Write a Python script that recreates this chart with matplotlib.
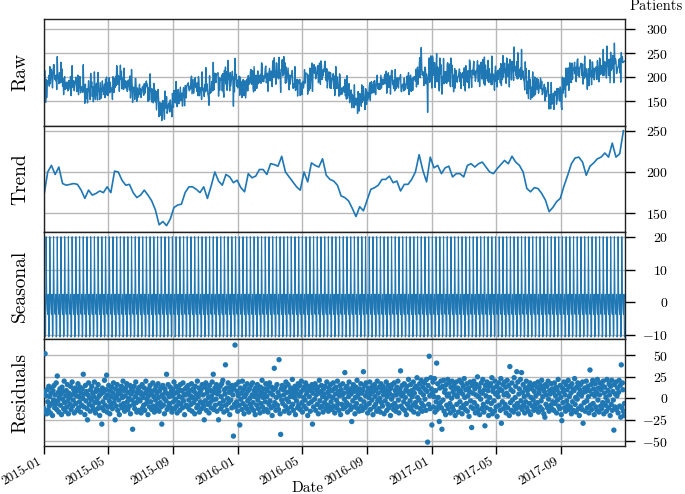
import numpy as np
import pandas as pd
import matplotlib
matplotlib.use("Agg")
import matplotlib.pyplot as plt
import matplotlib.dates as mdates

plt.rcParams['font.family'] = ['cmr10', 'DejaVu Serif']
plt.rcParams['mathtext.fontset'] = 'cm'
plt.rcParams['axes.formatter.use_mathtext'] = True

# ---------------- data ----------------
start_date = "2015-01-01"
n_days = 1095

# weekly trend level (one value per week starting 2015-01-01)
trend_weekly = [
    172, 200, 208, 197, 206, 186, 184, 185, 186, 185, 178, 168, 178, 172, 174, 177, 175, 182, 175, 201,
    200, 190, 184, 185, 175, 169, 172, 178, 172, 165, 154, 136, 140, 135, 143, 157, 160, 161, 175, 182,
    182, 179, 175, 182, 168, 183, 200, 189, 184, 197, 194, 187, 190, 181, 176, 198, 193, 195, 203, 203,
    197, 210, 209, 207, 219, 200, 194, 188, 182, 178, 200, 188, 211, 208, 206, 216, 196, 191,
    189, 184, 171, 169, 165, 156, 146, 158, 153, 166, 179, 181, 184, 191, 191, 195, 187, 189, 177, 185,
    185, 191, 200, 221, 202, 188, 218, 205, 208, 198, 205, 207, 194, 198, 198, 194, 208, 210, 206,
    210, 212, 206, 200, 198, 204, 209, 214, 210, 219, 212, 208, 200, 180, 176, 181, 180, 174, 166, 152,
    157, 164, 168, 183, 196, 210, 217, 218, 212, 196, 207, 211, 216, 218, 223, 218, 235, 218, 222, 250,
]

# weekly seasonal component, Monday..Sunday
season_by_weekday = [20.0, 3.2, -1.8, -3.6, 2.5, -10.5, -9.8]

# daily residuals
residuals = [
    -12, 8, 52, -15, 3, -18, 10, -4, -14, 14, -9, 2, -17, 6, 12, -6, -20, 9, -2, 15, -11, 4, -7, 18, -13, 26, -3, 7, -16, 1,
    11, -8, 5, -19, 13, -1, 8, -12, 20, -5, -15, 3, 9, -10, 16, -3, -18, 6, 1, -7, 14, -13, 4, 19, -9, -2, 10, -17, 7, 12,
    -6, 3, -14, 9, 17, -11, 2, -4, 13, -16, 6, -8, 11, 0, 28, -10, 5, -19, 15, -3, 8, -12, -25, 4, 18, -7, 1, -15, 10, -2,
    14, -9, 6, -13, 2, 19, -5, -17, 8, 11, -1, -12, 16, -6, 3, -20, 9, 5, -11, -30, 12, -4, 7, -14, 21, -8, 1, 10, 27, -16,
    4, -10, 15, -3, -18, 9, 2, -7, 13, -12, 6, 18, -5, 0, -25, 11, -9, 3, 16, -14, 7, -2, -19, 10, 5, -8, 14, -11, 1, 20,
    -6, 9, -15, 3, 12, -10, 17, -4, -13, 7, 0, -9, 15, -18, 5, 11, -2, -36, 8, -7, 14, -12, 2, 19, -5, -16, 6, 10, -1, -14,
    13, -3, 7, -17, 4, 16, -11, 1, -8, 12, -14, 6, 20, -6, -1, 9, -19, 3, 11, -10, 15, -4, 5, -13, 8, 18, -9, 2, -16, 10,
    -2, 14, -12, 6, -7, 17, 1, -15, 9, -5, 12, -10, -30, 4, 15, -8, 0, -18, 11, 7, -3, 28, -13, 5, 16, -9, 2, -6, 13, -11,
    8, -16, 3, 10, -4, 19, -12, 6, -1, 14, -9, -17, 7, 12, -5, 2, -14, 16, -7, 9, 1, -11, 18, -3, 5, -19, 11, 4, -8, 13,
    -10, 6, 15, -2, -13, 9, 3, -7, 17, -15, 1, 11, -5, 8, -18, 14, -1, 5, -11, 20, -8, 2, 12, -16, 7, -4, 10, -12, 16, -6,
    4, -9, -25, 13, -3, 18, -14, 6, 10, -7, 1, -17, 15, -5, 9, -11, 3, 19, -2, 28, -13, 7, 12, -8, -1, 16, -15, 5, 11, -25,
    8, -6, 14, -12, 2, 17, -9, 21, -3, -16, 10, 5, 39, -8, 12, -14, 0, 18, -5, 7, -19, 13, -2, 9, -11, 15, 4, -44, 11, -7,
    62, -10, 16, -4, 8, -15, 3, 19, -8, -31, 12, -1, 6, -13, 20, -6, 10, -18, 2, 14, -9, 5, -12, 17, -3, 9, -16, 11, 0, -7,
    15, -11, 4, 18, -5, -14, 9, 2, -19, 12, 6, -8, 16, -2, -12, 10, 3, -17, 13, -6, 7, 21, -10, 1, -15, 11, 5, -4, 17, -13,
    2, 9, -16, 14, -7, 18, -3, 6, -11, 13, -20, 4, 10, -9, 35, -5, 12, -14, 1, 16, -8, 7, -13, 45, 3, -18, -42, 11, -2, 15,
    -6, 10, 4, -15, 13, -9, 19, -1, 7, -12, 16, -4, -17, 8, 2, 12, -10, 5, 22, -7, -14, 9, 1, 14, -19, 6, -3, 11, -11, 17,
    -8, 3, 15, -13, 7, 20, -5, -16, 10, 1, -9, 13, -2, 18, -12, 5, 8, -20, 14, -6, 2, 11, -15, 9, -4, 16, -30, 6, -10, 12,
    -1, 17, -14, 4, 10, -7, 13, -18, 6, 21, -3, -11, 8, 15, -9, 2, -16, 11, 5, -5, 14, -12, 0, 19, -8, 7, -15, 12, 3, -10,
    16, -4, 9, -13, 1, 18, -9, 11, -17, 5, 13, -2, -11, 20, -6, 8, -14, 3, 15, -19, 10, -7, 4, 17, -12, 6, -1, 30, -10, 12,
    -5, 14, -16, 7, 2, 19, -8, 10, -13, 5, -27, 12, -3, 16, -10, 8, -18, 1, 13, -6, 21, -12, 4, 9, -15, 11, -1, 17, -9, 6,
    -14, 10, 31, -4, 15, -11, 3, 18, -8, 7, -17, 12, 1, -6, 19, -13, 5, 9, -2, 14, -19, 8, -10, 16, 2, -7, 11, -15, 20, -3,
    6, -12, 13, 0, -16, 17, -5, 9, -9, 14, 4, -18, 11, -3, 7, 19, -14, 2, -7, 15, -11, 10, 5, -20, 12, -1, 16, -8, 3, -13,
    18, -6, 9, -15, 4, 13, -10, 20, -2, -17, 7, 11, 32, -9, 3, 15, -12, 6, -4, 17, -14, 1, 10, -19, 14, -7, 8, 22, -11, 5,
    -3, 16, -13, 9, 2, -8, 19, -16, 6, 12, -5, 14, -10, 24, 1, -18, 11, -2, 17, -12, 7, 21, -6, -15, 13, 4, -9, 18, -1, 10,
    -14, 22, 8, -51, 15, -7, 49, 3, -12, 24, 11, -31, 6, 19, -10, 2, 23, -16, 9, -4, 41, -13, 17, 1, -9, -27, 12, -5, 20, -11,
    -36, 14, -2, 21, -15, 7, 10, -19, 16, -8, 3, 22, -12, 5, 18, -6, -17, 13, 0, 20, -10, 8, -14, 15, 4, -20, 11, 19, -7, 2,
    12, -16, 7, 21, -4, 9, -11, 18, -18, 5, 14, -8, 23, 1, -13, 10, -6, 17, -15, 3, 12, -21, 8, 19, -3, -10, -34, 15, 6, -12,
    20, -5, 11, -17, 4, 16, -9, 25, -14, 2, 13, -19, 8, -1, 18, -12, 6, 22, -7, -16, 10, -32, 15, 3, -11, 19, -4, 9, -20, 14,
    1, -13, 17, -6, 24, -18, 8, 12, -3, -15, 20, 5, -10, 14, -21, 7, 2, 18, -8, 11, -14, 23, -29, 9, -4, 16, -12, 4, 19, -7,
    13, -17, 6, 21, -11, 3, 15, -20, 37, -5, 10, -14, 18, -2, 8, -16, 24, -9, 1, 14, -12, 31, -6, 19, -18, 5, 11, -10, 22, -3,
    30, -13, 7, 16, -8, 2, -17, 12, -4, 20, -11, 9, 4, -15, 14, -6, 18, -19, 1, 11, -9, 15, -2, -14, 8, 17, -7, 3, -12, 13,
    -5, 19, -16, 6, 10, -10, 15, -3, 21, -13, 2, 12, -18, 8, -22, 16, -7, 4, 14, -11, 20, -1, -15, 9, 5, -8, 17, -12, 11, -4,
    7, -14, 18, -6, 3, 13, -17, 10, -2, 22, -9, 6, -12, 15, 1, -19, -26, 12, -5, 8, 19, -11, 4, -15, 16, -3, 10, -8, 21, -13,
    2, 14, -10, 6, -18, 17, -4, 11, -14, 9, 23, -7, 1, -16, 13, -1, 18, -12, 5, -20, 10, 16, -9, 3, -13, 19, -29, 7, -5, 12,
    -15, 8, 20, -3, -11, 14, 2, -17, 9, 33, -8, 16, -13, 5, 21, -6, 11, -19, 3, 17, -10, 7, -14, 22, -2, 12, -16, 4, 18, -9,
    10, -12, 15, -5, 20, -18, 6, 13, -8, 1, -15, 22, -3, 9, -11, 17, 4, -20, 14, -7, 21, -14, 8, -2, -37, 16, -10, 5, 19, -13,
    3, 12, -17, 7, 21, -9, 15, -22, 39, -11, 18, 10, -15, -20, -6,
]

raw_yticks = [150, 200, 250, 300]
trend_yticks = [150, 200, 250]
seasonal_yticks = [-10, 0, 10, 20]
resid_yticks = [-50, -25, 0, 25, 50]

# ---------------- assemble ----------------
dates = pd.date_range(start_date, periods=n_days, freq="D")
week_dates = pd.date_range(start_date, periods=len(trend_weekly), freq="7D")
resid = np.array(residuals[:n_days], dtype=float)
seasonal = np.array(season_by_weekday)[dates.dayofweek]
trend_daily = np.repeat(np.array(trend_weekly, dtype=float), 7)[:n_days]
raw = trend_daily + seasonal + resid

blue = '#1f77b4'
fig, axes = plt.subplots(4, 1, sharex=True, figsize=(6.85, 4.94), dpi=100)
fig.subplots_adjust(left=44/685, right=625/685, top=1-19/494, bottom=1-446/494, hspace=0)

axes[0].plot(dates, raw, color=blue, lw=1.0)
axes[1].plot(week_dates, trend_weekly, color=blue, lw=1.2)
axes[2].plot(dates, seasonal, color=blue, lw=0.8)
axes[3].scatter(dates, resid, s=15, color=blue, edgecolors='none', zorder=3)

labels = ['Raw', 'Trend', 'Seasonal', 'Residuals']
yticks = [raw_yticks, trend_yticks, seasonal_yticks, resid_yticks]
ylims = [(98.5, 321.5), (126.7, 256), (-11.2, 21.3), (-55.5, 68.8)]

for ax, lab, yt, yl in zip(axes, labels, yticks, ylims):
    ax.set_ylim(*yl)
    ax.set_yticks(yt)
    ax.yaxis.tick_right()
    ax.tick_params(axis='y', which='both', direction='out', length=7, width=1,
                   pad=24, labelsize=10, left=False, right=True)
    for t in ax.get_yticklabels():
        t.set_ha('right')
    ax.grid(True, color='#b8b8b8', lw=1.0)
    ax.set_axisbelow(True)
    for sp in ax.spines.values():
        sp.set_color('#222222')
        sp.set_linewidth(1.0)
    pos = ax.get_position()
    fig.text(20/685, (pos.y0 + pos.y1) / 2, lab, rotation=90, ha='center', va='center', fontsize=14)

axes[0].set_xlim(pd.Timestamp('2015-01-01'), pd.Timestamp('2017-12-31'))
axes[3].xaxis.set_major_locator(mdates.MonthLocator(bymonth=[1, 5, 9]))
axes[3].xaxis.set_major_formatter(mdates.DateFormatter('%Y-%m'))
for ax in axes[:3]:
    ax.tick_params(axis='x', length=0)
axes[3].tick_params(axis='x', direction='out', length=6, width=1, labelsize=9.5, pad=1)
for t in axes[3].get_xticklabels():
    t.set_rotation(30)
    t.set_ha('right')

fig.text(308/685, 1-492/494, 'Date', ha='center', va='baseline', fontsize=11)
fig.text(630/685, 1-9.5/494, 'Patients', ha='left', va='baseline', fontsize=10.5)

fig.savefig('out.png', dpi=100)
